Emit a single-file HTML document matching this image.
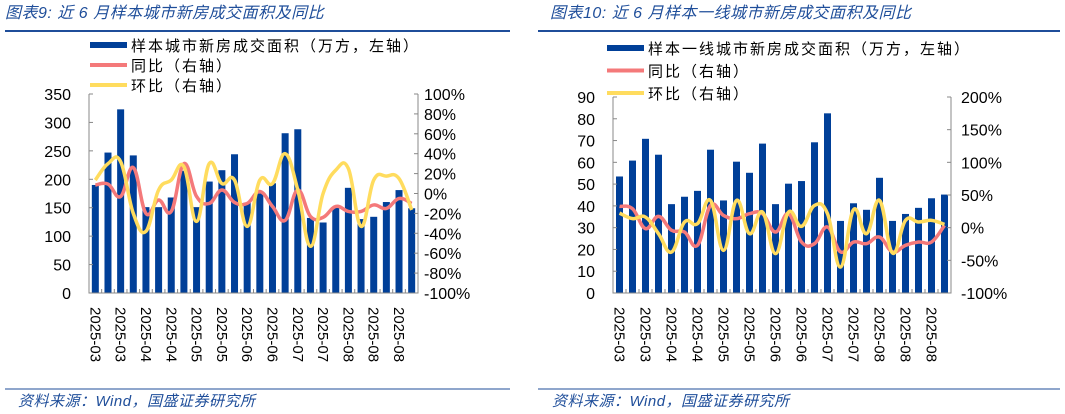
<!DOCTYPE html>
<html><head><meta charset="utf-8">
<style>
body{margin:0;background:#fff;}
svg{display:block;font-family:"Liberation Sans","Noto Sans CJK SC",sans-serif;}
.t{fill:#1f4e9a;font-style:italic;font-size:16px;letter-spacing:0.5px;}
.src{fill:#1f4e9a;font-style:italic;font-size:15px;letter-spacing:0.5px;}
.lg{font-size:15px;letter-spacing:2px;fill:#000;}
.tk{font-size:16px;fill:#000;}
.xl{font-size:15px;fill:#000;}
</style></head>
<body>
<svg id="s" width="1065" height="414">
<text class="t" x="5" y="18">图表9:  近 6 月样本城市新房成交面积及同比</text>
<line x1="5" y1="31" x2="510" y2="31" stroke="#1f4e9a" stroke-width="2"/>
<text class="t" x="550" y="18">图表10:  近 6 月样本一线城市新房成交面积及同比</text>
<line x1="538" y1="31" x2="1060" y2="31" stroke="#1f4e9a" stroke-width="2"/>
<line x1="5" y1="389" x2="510" y2="389" stroke="#1f4e9a" stroke-width="1"/>
<line x1="538" y1="389" x2="1060" y2="389" stroke="#1f4e9a" stroke-width="1"/>
<text class="src" x="18" y="406">资料来源：Wind，国盛证券研究所</text>
<text class="src" x="552" y="406">资料来源：Wind，国盛证券研究所</text>
</svg>
<script>
const categories=["2025-03","2025-03","2025-03","2025-03","2025-04","2025-04","2025-04","2025-04","2025-05","2025-05","2025-05","2025-05","2025-05","2025-06","2025-06","2025-06","2025-06","2025-07","2025-07","2025-07","2025-07","2025-08","2025-08","2025-08","2025-08","2025-08"];
const labelCats=["2025-03","2025-03","2025-04","2025-04","2025-05","2025-05","2025-06","2025-06","2025-07","2025-07","2025-08","2025-08","2025-08"];
const area1=[190,247,323,242,151,151,168,215,151,196,216,244,159,175,193,281,288,132,124,151,185,130,134,160,181,149];
const yoy1=[8.5,9.5,-3,26,-20,-6.5,-18,30,-3,-10,3.5,-9,-10,2,-13,-27,3.5,-23,-24,-13,-18,-18,-11.5,-15,-5,-10];
const mom1=[13.5,30,32,-20,-38,3.5,13.5,27,-28,30,10,13.5,-33,13.5,10,40,3.5,-53,0,23.5,25,-33,13.5,17.5,15,-16.5];
const area2=[53.5,60.8,70.8,63.5,40.8,44.2,46.9,65.8,42.5,60.3,55.2,68.6,40.8,50.2,51.4,69.2,82.5,33.1,41.2,38.2,52.9,33.1,36.3,39.1,43.5,45.2];
const yoy2=[32.6,29,-1.5,17.3,-4,-6.7,-27,34,18.8,13.8,21.4,21.4,-6.7,21.4,-22,-24.5,1,-37,-22,-24.5,-14.4,-37,-27,-22,-22,3.5];
const mom2=[22.3,13.8,16.2,-9.2,-37.3,8.6,6.1,41.7,-34.7,41.7,-9.2,23.9,-39.8,23.9,2,34,21.4,-60.2,27.5,-9.2,41.7,-38.8,11.2,8.6,11.2,5];
const leftTicks1=[0,50,100,150,200,250,300,350];
const rightTicks1=[-100,-80,-60,-40,-20,0,20,40,60,80,100];
const leftTicks2=[0,10,20,30,40,50,60,70,80,90];
const rightTicks2=[-100,-50,0,50,100,150,200];
const NS="http://www.w3.org/2000/svg";
const svg=document.getElementById('s');
function mk(tag,attrs,parent){const e=document.createElementNS(NS,tag);for(const k in attrs)e.setAttribute(k,attrs[k]);(parent||svg).appendChild(e);return e;}
function smooth(pts){let d="M"+pts[0][0]+","+pts[0][1];for(let i=0;i<pts.length-1;i++){const p0=pts[i-1]||pts[i],p1=pts[i],p2=pts[i+1],p3=pts[i+2]||p2;const t=0.2;d+=" C"+(p1[0]+(p2[0]-p0[0])*t)+","+(p1[1]+(p2[1]-p0[1])*t)+" "+(p2[0]-(p3[0]-p1[0])*t)+","+(p2[1]-(p3[1]-p1[1])*t)+" "+p2[0]+","+p2[1];}return d;}
function chart(c){
  const g=mk('g',{});
  
  
  const n=categories.length,bw=(c.x1-c.x0)/n;
  const xs=i=>c.x0+bw*(i+0.5);
  const yl=v=>c.y0-(v-c.lmin)/(c.lmax-c.lmin)*(c.y0-c.y1);
  const yr=v=>c.y0-(v-c.rmin)/(c.rmax-c.rmin)*(c.y0-c.y1);
  const lg=[["#003f98",c.legend[0],6],["#f4797a",c.legend[1],4],["#ffdc5e",c.legend[2],4]];
  lg.forEach((l,i)=>{const y=c.ly+i*c.lstep;
    const sw=mk('line',{x1:c.lx,y1:y,x2:c.lx+37,y2:y,stroke:l[0],'stroke-width':l[2]},g);
    
    
    const t=mk('text',{x:c.lx+41,y:y+6,class:'lg'},g);t.textContent=l[1];
    
    });
  c.area.forEach((v,i)=>{const r=mk('rect',{x:xs(i)-3.5,y:yl(v),width:7,height:c.y0-yl(v),fill:'#003f98'},g);
    
    });
  const ax=mk('path',{d:`M${c.x0},${c.y1}V${c.y0}H${c.x1}V${c.y1}`,fill:'none',stroke:'#888','stroke-width':1},g);
  
  
  for(let i=0;i<=n;i++)mk('line',{x1:c.x0+bw*i,y1:c.y0,x2:c.x0+bw*i,y2:c.y0-4,stroke:'#888'},g);
  c.lt.forEach(v=>{mk('line',{x1:c.x0,y1:yl(v),x2:c.x0+4,y2:yl(v),stroke:'#888'},g);
    const t=mk('text',{x:c.x0-18,y:yl(v)+6,'text-anchor':'end',class:'tk'},g);t.textContent=v;
    
    });
  c.rt.forEach(v=>{mk('line',{x1:c.x1,y1:yr(v),x2:c.x1-4,y2:yr(v),stroke:'#888'},g);
    const t=mk('text',{x:c.x1+c.rpad,y:yr(v)+6,class:'tk'},g);t.textContent=v+"%";
    
    });
  labelCats.forEach((s,j)=>{const x=xs(j*2)-5;
    const t=mk('text',{x:0,y:0,class:'xl',transform:`translate(${x},${c.y0+14}) rotate(90)`},g);t.textContent=s;
    
    });
  const p1=mk('path',{d:smooth(c.yoy.map((v,i)=>[xs(i),yr(v)])),fill:'none',stroke:'#f4797a','stroke-width':3.5},g);
  
  
  const p2=mk('path',{d:smooth(c.mom.map((v,i)=>[xs(i),yr(v)])),fill:'none',stroke:'#ffdc5e','stroke-width':3.5},g);
  
  
}
chart({id:'chart9',x0:89,x1:418,y0:293,y1:94,lmin:0,lmax:350,rmin:-100,rmax:100,area:area1,yoy:yoy1,mom:mom1,lt:leftTicks1,rt:rightTicks1,rpad:6,lx:90,ly:45,lstep:20,
  legend:["样本城市新房成交面积（万方，左轴）","同比（右轴）","环比（右轴）"]});
chart({id:'chart10',x0:613,x1:951,y0:293,y1:97,lmin:0,lmax:90,rmin:-100,rmax:200,area:area2,yoy:yoy2,mom:mom2,lt:leftTicks2,rt:rightTicks2,rpad:10,lx:607,ly:48,lstep:22.5,
  legend:["样本一线城市新房成交面积（万方，左轴）","同比（右轴）","环比（右轴）"]});
</script>
</body></html>
